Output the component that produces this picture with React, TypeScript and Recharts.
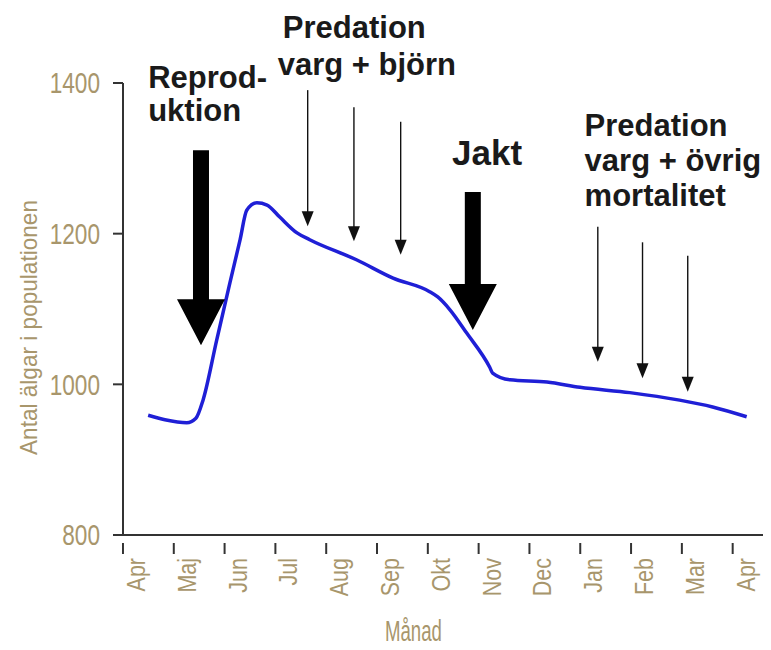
import { Line, LineChart, ReferenceDot, XAxis, YAxis } from "recharts";

// month labels along the x axis (Apr .. Apr)
const months = ["Apr", "Maj", "Jun", "Jul", "Aug", "Sep", "Okt", "Nov", "Dec", "Jan", "Feb", "Mar", "Apr"];
const yTicks = [800, 1000, 1200, 1400];

// population curve, x in months after April
const timeX = [0.22, 0.55, 0.98, 1.16, 1.3, 1.57, 1.83, 2.03, 2.16, 2.36, 2.56, 2.81, 3.15, 3.4, 4.33, 5.04, 5.76, 5.92, 6.16, 6.49, 6.94, 7.0, 7.34, 8.07, 8.72, 9.7, 10.68, 11.33, 12.0];
const population = [959, 953, 949, 955, 979, 1059, 1135, 1192, 1231, 1241, 1238, 1222, 1201, 1192, 1165, 1141, 1123, 1116, 1099, 1068, 1023, 1015, 1006, 1003, 996, 989, 979, 970, 957];

// arrows: tip position (month, value), thick or thin, shaft length
const arrowX = [1.26, 3.36, 4.27, 5.19, 6.61, 9.07, 9.95, 10.84];
const arrowY = [1052, 1210, 1190, 1172, 1072, 1030, 1008, 990];
const arrowThick = [true, false, false, false, true, false, false, false];
const arrowLen = [195, 136, 134, 133, 138, 135, 136, 136];

// annotation text lines: left edge (month), baseline (value)
const noteText = ["Reprod-", "uktion", "Predation", "varg + björn", "Jakt", "Predation", "varg + övrig", "mortalitet"];
const noteX = [0.22, 0.22, 2.87, 2.77, 6.2, 8.81, 8.81, 8.81];
const noteY = [1393, 1350, 1460, 1411, 1291, 1330, 1283, 1237];

const data = timeX.map((m, i) => ({ m, v: population[i] }));

const TAN = "#a8966c";
const SANS = "'Liberation Sans', Arial, sans-serif";

function MonthTick(props: any) {
	const { x, y, payload } = props;
	const tx = x + 8;
	const ty = y + 15;
	return (
		<g>
			<line x1={x - 14} y1={y} x2={x - 14} y2={y + 11} stroke="#333" strokeWidth={2} />
			<text
				transform={`translate(${tx},${ty}) rotate(-90) scale(0.86,1)`}
				textAnchor="end"
				fill={TAN}
				fontSize={25}
				fontFamily={SANS}
			>
				{months[payload.value]}
			</text>
		</g>
	);
}

function ValueTick(props: any) {
	const { x, y, payload } = props;
	return (
		<text
			transform={`translate(${x},${y}) scale(0.78,1)`}
			dy="0.36em"
			textAnchor="end"
			fill={TAN}
			fontSize={29}
			fontFamily={SANS}
		>
			{payload.value}
		</text>
	);
}

function Arrow(props: any) {
	const { cx, cy, thick, len } = props;
	if (cx == null || cy == null) return null;
	if (thick) {
		const head = 46;
		const hw = 24;
		const sw = 8;
		const d = `M${cx - sw},${cy - len} L${cx + sw},${cy - len} L${cx + sw},${cy - head} L${cx + hw},${cy - head} L${cx},${cy} L${cx - hw},${cy - head} L${cx - sw},${cy - head} Z`;
		return <path d={d} fill="#000" />;
	}
	const head = 15;
	const hw = 6;
	return (
		<g>
			<line x1={cx} y1={cy - len} x2={cx} y2={cy - head + 1} stroke="#111" strokeWidth={1.4} />
			<path d={`M${cx - hw},${cy - head} L${cx + hw},${cy - head} L${cx},${cy} Z`} fill="#111" />
		</g>
	);
}

function Note(props: any) {
	const { cx, cy, text } = props;
	if (cx == null || cy == null) return null;
	return (
		<text x={cx} y={cy} fontSize={text === "Jakt" ? 35 : 31} fontWeight="bold" fontFamily={SANS} fill="#1a1a1a">
			{text}
		</text>
	);
}

export default function App() {
	return (
		<div style={{ margin: -8, width: 771, height: 650, background: "#fff", position: "relative", overflow: "hidden" }}>
			<LineChart width={771} height={650} data={data} margin={{ top: 83, right: 4, left: 0, bottom: 0 }}>
				<XAxis
					type="number"
					dataKey="m"
					domain={[-0.275, 12.4]}
					ticks={months.map((_, i) => i)}
					interval={0}
					tick={<MonthTick />}
					tickLine={false}
					height={115}
					axisLine={{ stroke: "#333", strokeWidth: 2 }}
				/>
				<YAxis
					type="number"
					domain={[800, 1400]}
					ticks={yTicks}
					width={123}
					tickSize={10}
					tickMargin={13}
					tick={<ValueTick />}
					tickLine={{ stroke: "#333", strokeWidth: 2 }}
					axisLine={{ stroke: "#333", strokeWidth: 2 }}
					label={{
						content: () => (
							<text
								transform="translate(37,455) rotate(-90)"
								textLength={255}
								lengthAdjust="spacingAndGlyphs"
								fill={TAN}
								fontSize={24}
								fontFamily={SANS}
							>
								Antal älgar i populationen
							</text>
						),
					}}
				/>
				<Line
					type="monotone"
					dataKey="v"
					stroke="#1f1fd6"
					strokeWidth={3.5}
					dot={false}
					isAnimationActive={false}
				/>
				{arrowX.map((ax, i) => (
					<ReferenceDot
						key={`a${i}`}
						x={ax}
						y={arrowY[i]}
						ifOverflow="visible"
						shape={(p: any) => <Arrow {...p} thick={arrowThick[i]} len={arrowLen[i]} />}
					/>
				))}
				{noteX.map((nx, i) => (
					<ReferenceDot
						key={`n${i}`}
						x={nx}
						y={noteY[i]}
						ifOverflow="visible"
						shape={(p: any) => <Note {...p} text={noteText[i]} />}
					/>
				))}
			</LineChart>
			<div
				style={{
					position: "absolute",
					left: 385,
					top: 613,
					width: 60,
					fontFamily: SANS,
					fontSize: 30,
					lineHeight: "36px",
					color: TAN,
					transform: "scaleX(0.62)",
					transformOrigin: "left top",
					whiteSpace: "nowrap",
				}}
			>
				Månad
			</div>
		</div>
	);
}
